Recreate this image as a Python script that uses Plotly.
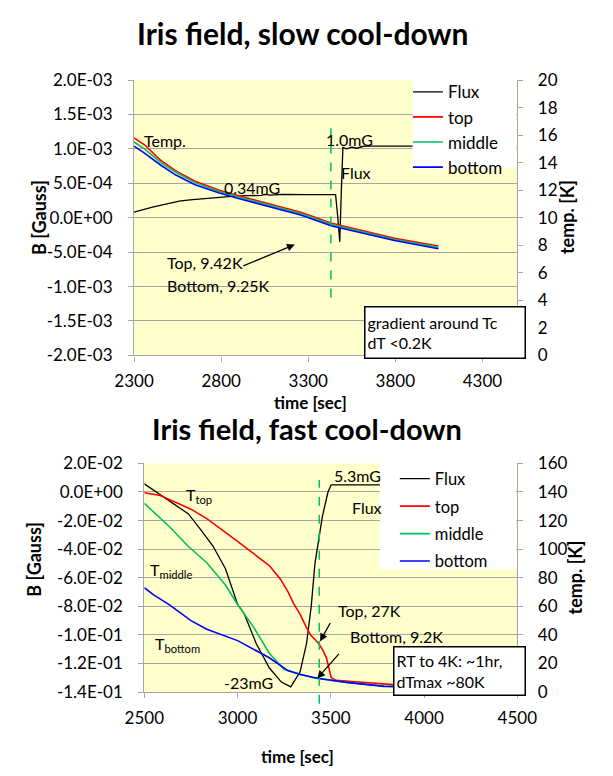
import plotly.graph_objects as go

W, H = 613, 776

# ---------------- data: slow cool-down ----------------
slow_flux_t = [2300, 2350, 2400, 2450, 2500, 2560, 2620, 2700, 2780, 2860, 2940, 3000, 3030, 3050,
               3080, 3150, 3200, 3300, 3400, 3457, 3468, 3481, 3490, 3499, 3520, 3550, 3580, 3610,
               3640, 3700, 3800, 3900, 4050]
slow_flux_B = [0.8e-4, 1.2e-4, 1.5e-4, 1.8e-4, 2.1e-4, 2.4e-4, 2.6e-4, 2.8e-4, 3.0e-4, 3.1e-4, 3.2e-4,
               3.3e-4, 3.25e-4, 3.4e-4, 3.3e-4, 3.4e-4, 3.35e-4, 3.35e-4, 3.35e-4, 3.35e-4, 0.5e-4,
               -3.5e-4, 4.0e-4, 10.2e-4, 10.0e-4, 10.25e-4, 10.1e-4, 10.35e-4, 10.4e-4, 10.4e-4,
               10.4e-4, 10.4e-4, 10.4e-4]
slow_T_t = [2300, 2360, 2450, 2540, 2650, 2790, 2900, 3080, 3257, 3435, 3600, 3795, 4047]
slow_T_top = [15.8, 15.3, 14.2, 13.4, 12.65, 12.0, 11.6, 11.0, 10.4, 9.6, 9.1, 8.5, 7.95]
slow_T_mid = [15.5, 15.0, 14.05, 13.3, 12.55, 11.9, 11.5, 10.9, 10.3, 9.5, 9.0, 8.42, 7.85]
slow_T_bot = [15.2, 14.7, 13.85, 13.1, 12.4, 11.8, 11.4, 10.8, 10.2, 9.4, 8.9, 8.35, 7.75]
slow_tc_time = 3430
slow_tc_span = [4.2, 16.5]
slow_xticks = [2300, 2800, 3300, 3800, 4300]
slow_yticks = [-2e-3, -1.5e-3, -1e-3, -5e-4, 0, 5e-4, 1e-3, 1.5e-3, 2e-3]
slow_ytext = ["-2.0E-03", "-1.5E-03", "-1.0E-03", "-5.0E-04", "0.0E+00", "5.0E-04", "1.0E-03",
              "1.5E-03", "2.0E-03"]
slow_y2ticks = [0, 2, 4, 6, 8, 10, 12, 14, 16, 18, 20]

# ---------------- data: fast cool-down ----------------
fast_flux_t = [2500, 2585, 2670, 2735, 2800, 2868, 2935, 3000, 3035, 3100, 3170, 3235, 3285, 3335,
               3370, 3395, 3415, 3435, 3455, 3485, 3502, 3600, 3700, 3850]
fast_flux_B = [0.0057, -0.0018, -0.0095, -0.0152, -0.026, -0.0378, -0.0537, -0.0786, -0.085, -0.106,
               -0.123, -0.133, -0.1364, -0.126, -0.106, -0.08, -0.05, -0.033, -0.017, 0.0, 0.0050,
               0.0050, 0.0050, 0.0050]
fast_top_t = [2500, 2585, 2670, 2750, 2835, 2920, 3000, 3085, 3170, 3230, 3270, 3300, 3335, 3368,
              3393, 3435, 3460, 3477, 3488, 3502, 3527, 3600, 3700, 3850]
fast_top_T = [139.5, 137.5, 132.7, 128, 121.4, 113.5, 105.5, 97, 88.5, 79, 70.3, 62, 54.5, 45.6,
              39.7, 34, 28.6, 23.8, 18.4, 10.2, 8.2, 7.5, 6.5, 5.0]
fast_mid_t = [2500, 2635, 2735, 2835, 2935, 3000, 3085, 3170, 3250, 3335, 3400, 3435, 3585, 3785, 3850]
fast_mid_T = [132, 115.7, 102, 90.5, 74.9, 61.3, 45.6, 27.2, 15.7, 12.3, 10.2, 9.5, 6.8, 4.2, 3.9]
fast_bot_t = [2500, 2550, 2635, 2750, 2835, 3000, 3170, 3270, 3335, 3435, 3585, 3785, 3850]
fast_bot_T = [73, 68, 61, 50, 44, 36, 24, 15, 12.3, 9.5, 6.8, 4.0, 3.8]
fast_tc_time = 3438
fast_xticks = [2500, 3000, 3500, 4000, 4500]
fast_yticks = [-0.14, -0.12, -0.10, -0.08, -0.06, -0.04, -0.02, 0, 0.02]
fast_ytext = ["-1.4E-01", "-1.2E-01", "-1.0E-01", "-8.0E-02", "-6.0E-02", "-4.0E-02", "-2.0E-02",
              "0.0E+00", "2.0E-02"]
fast_y2ticks = [0, 20, 40, 60, 80, 100, 120, 140, 160]

series_names = ["Flux", "top", "middle", "bottom"]
series_colors = ["#000000", "#FF0000", "#00C060", "#0000FF"]

FONT = "Lato"
GRID = "#A6A6A6"


def px(x):
    return x / W


def py(y):
    return 1 - y / H


fig = go.Figure()

# top chart traces
fig.add_trace(go.Scatter(x=slow_flux_t, y=slow_flux_B, name=series_names[0], mode="lines",
                         line=dict(color=series_colors[0], width=1.3), xaxis="x", yaxis="y",
                         legend="legend"))
for nm, col, vals in zip(series_names[1:], series_colors[1:], [slow_T_top, slow_T_mid, slow_T_bot]):
    fig.add_trace(go.Scatter(x=slow_T_t, y=vals, name=nm, mode="lines",
                             line=dict(color=col, width=1.6), xaxis="x", yaxis="y2",
                             legend="legend"))

# bottom chart traces
fig.add_trace(go.Scatter(x=fast_flux_t, y=fast_flux_B, name=series_names[0], mode="lines",
                         line=dict(color=series_colors[0], width=1.3), xaxis="x2", yaxis="y3",
                         legend="legend2", legendgroup="g0"))
for i, (nm, col, tt, vals) in enumerate(zip(series_names[1:], series_colors[1:],
                                            [fast_top_t, fast_mid_t, fast_bot_t],
                                            [fast_top_T, fast_mid_T, fast_bot_T])):
    fig.add_trace(go.Scatter(x=tt, y=vals, name=nm, mode="lines",
                             line=dict(color=col, width=1.6), xaxis="x2", yaxis="y4",
                             legend="legend2", legendgroup="g%d" % (i + 1)))

tickfont = dict(family=FONT, size=17, color="#000")
axis_common = dict(showline=True, linecolor=GRID, linewidth=1.2, ticks="outside", ticklen=5,
                   tickcolor=GRID, tickfont=tickfont, zeroline=False)
x_common = dict(ticklabelstandoff=5, **axis_common)
yl_common = dict(ticklabelstandoff=12, **axis_common)
yr_common = dict(ticklabelstandoff=11, **axis_common)

shapes = [
    # dashed Tc markers
    dict(type="line", xref="x", yref="y2", x0=slow_tc_time, x1=slow_tc_time,
         y0=slow_tc_span[0], y1=slow_tc_span[1], line=dict(color="#00C060", width=1.5, dash="dash")),
    dict(type="line", xref="x2", yref="paper", x0=fast_tc_time, x1=fast_tc_time,
         y0=py(712), y1=py(482), line=dict(color="#00C060", width=1.5, dash="dash")),
    # legend backgrounds
    dict(type="rect", xref="paper", yref="paper", x0=px(420), x1=px(531), y0=py(162), y1=py(68),
         fillcolor="white", line=dict(width=0), layer="above"),
    dict(type="rect", xref="paper", yref="paper", x0=px(385), x1=px(531), y0=py(574), y1=py(463),
         fillcolor="white", line=dict(width=0), layer="above"),
]


def txt(text, x, y, size=16, xanchor="left", bold=False, angle=0, yanchor="middle"):
    t = "<b>%s</b>" % text if bold else text
    return dict(text=t, x=px(x), y=py(y), xref="paper", yref="paper", showarrow=False,
                xanchor=xanchor, yanchor=yanchor, textangle=angle,
                font=dict(family=FONT, size=size, color="#000"))


def arrow(x_head, y_head, x_tail, y_tail):
    return dict(text="", x=px(x_head), y=py(y_head), xref="paper", yref="paper", showarrow=True,
                ax=x_tail - x_head, ay=y_tail - y_head, axref="pixel", ayref="pixel",
                arrowhead=2, arrowsize=1.2, arrowwidth=1.3, arrowcolor="#000")


annotations = [
    txt("Iris field, slow cool-down", 302, 23, size=30, xanchor="center", bold=True),
    txt("Iris field, fast cool-down", 307, 429, size=29, xanchor="center", bold=True),
    txt("time [sec]", 311, 402, size=17, xanchor="center", bold=True),
    txt("time [sec]", 297, 766, size=17, xanchor="center", bold=True),
    txt("B [Gauss]", 21, 212, size=18, xanchor="center", bold=True, angle=-90),
    txt("B [Gauss]", 15, 564, size=18, xanchor="center", bold=True, angle=-90),
    txt("temp. [K]", 586, 212, size=18, xanchor="center", bold=True, angle=-90),
    txt("temp. [K]", 594, 582, size=18, xanchor="center", bold=True, angle=-90),
    # top chart labels
    txt("Temp.", 131, 133),
    txt("0.34mG", 216, 181),
    txt("1.0mG", 325, 132),
    txt("Flux", 341, 166),
    txt("Top, 9.42K", 155, 258),
    txt("Bottom, 9.25K", 155, 282),
    arrow(294, 240, 241, 262),
    dict(text="gradient around Tc<br>dT <0.2K", x=px(368), y=py(303), xref="paper", yref="paper",
         showarrow=False, xanchor="left", yanchor="top", align="left", width=155, height=46,
         bgcolor="white", bordercolor="#000", borderwidth=1.5, borderpad=2,
         font=dict(family=FONT, size=16, color="#000")),
    # bottom chart labels
    txt("5.3mG", 334, 477),
    txt("Flux", 353, 510),
    txt("T<sub>top</sub>", 175, 498),
    txt("T<sub>middle</sub>", 137, 575),
    txt("T<sub>bottom</sub>", 142, 651),
    txt("-23mG", 216, 690),
    txt("Top, 27K", 338, 616),
    txt("Bottom, 9.2K", 351, 643),
    arrow(321, 648, 332, 628),
    arrow(318, 686, 341, 660),
    dict(text="RT to 4K: ~1hr,<br>dTmax ~80K", x=px(399), y=py(653), xref="paper", yref="paper",
         showarrow=False, xanchor="left", yanchor="top", align="left", width=126, height=43,
         bgcolor="white", bordercolor="#000", borderwidth=1.5, borderpad=2,
         font=dict(family=FONT, size=16, color="#000")),
]

fig.update_layout(
    width=W, height=H, autosize=False,
    margin=dict(l=0, r=0, t=0, b=0),
    paper_bgcolor="white", plot_bgcolor="#FFFFCC",
    font=dict(family=FONT, size=16, color="#000"),
    xaxis=dict(domain=[px(122), px(532)], range=[2300, 4500], anchor="y", tickvals=slow_xticks,
               showgrid=False, **x_common),
    yaxis=dict(domain=[py(354), py(71)], range=[-2e-3, 2e-3], anchor="x", tickvals=slow_yticks,
               ticktext=slow_ytext, showgrid=True, gridcolor=GRID, gridwidth=1.2, **yl_common),
    yaxis2=dict(range=[0, 20], overlaying="y", side="right", anchor="x", tickvals=slow_y2ticks,
                showgrid=False, **yr_common),
    xaxis2=dict(domain=[px(133), px(532)], range=[2500, 4500], anchor="y3", tickvals=fast_xticks,
                showgrid=False, **x_common),
    yaxis3=dict(domain=[py(700), py(465)], range=[-0.14, 0.02], anchor="x2", tickvals=fast_yticks,
                ticktext=fast_ytext, showgrid=True, gridcolor=GRID, gridwidth=1.2, **yl_common),
    yaxis4=dict(range=[0, 160], overlaying="y3", side="right", anchor="x2", tickvals=fast_y2ticks,
                showgrid=False, **yr_common),
    legend=dict(x=px(415), y=py(65), xanchor="left", yanchor="top", bgcolor="rgba(0,0,0,0)",
                font=dict(family=FONT, size=17, color="#000"), itemwidth=30),
    legend2=dict(x=px(401), y=py(463), xanchor="left", yanchor="top", bgcolor="rgba(0,0,0,0)",
                 font=dict(family=FONT, size=16.5, color="#000"), itemwidth=30, tracegroupgap=3),
    shapes=shapes,
    annotations=annotations,
)

fig.write_html("out.html")
